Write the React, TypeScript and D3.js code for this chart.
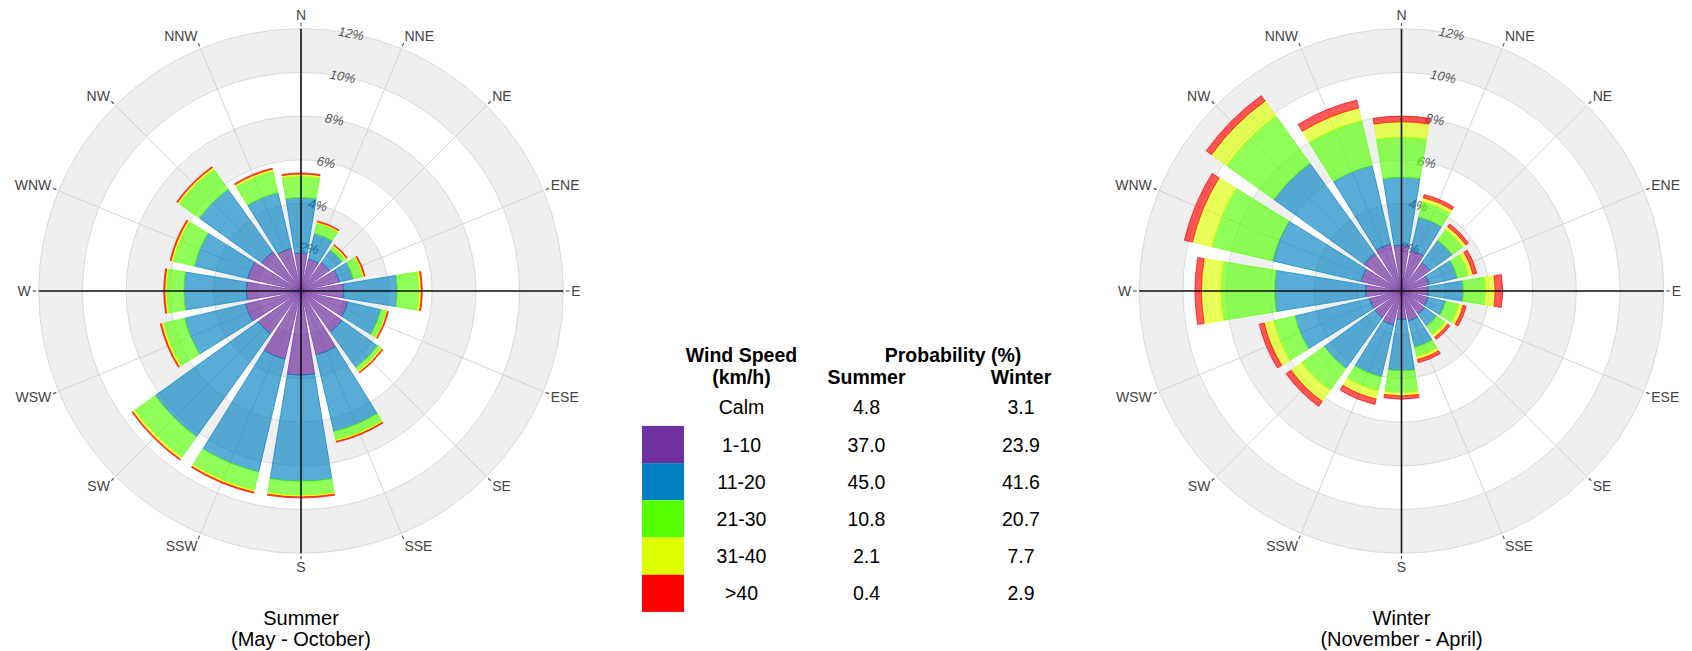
import React from "react";
import * as d3 from "d3";

const directions = ["N","NNE","NE","ENE","E","ESE","SE","SSE","S","SSW","SW","WSW","W","WNW","NW","NNW"];
const speedClasses = ["1-10","11-20","21-30","31-40",">40"];
const speedColors = ["#7030A0","#0080C0","#55FF00","#DDFF00","#FF0000"];

// Summer (May - October), % per direction for each speed class
const summer1to10 = [1.74,1.5,1.6,1.8,1.95,2.2,2.3,3.0,3.85,3.2,2.4,2.6,2.5,2.5,2.2,2.0];
const summer11to20 = [2.54,1.2,0.7,0.65,2.45,1.55,2.0,3.6,4.85,5.3,5.8,2.86,2.85,2.5,3.52,2.62];
const summer21to30 = [0.97,0.48,0.2,0.45,1.0,0.25,0.2,0.4,0.64,0.85,1.15,1.0,0.8,1.0,1.13,1.0];
const summer31to40 = [0.1,0.07,0.07,0.07,0.1,0.07,0.07,0.07,0.08,0.1,0.12,0.1,0.08,0.1,0.1,0.1];
const summerOver40 = [0.05,0.04,0.04,0.04,0.05,0.04,0.04,0.04,0.05,0.05,0.05,0.05,0.05,0.05,0.05,0.05];

// Winter (November - April)
const winter1to10 = [2.1,1.9,1.6,1.3,1.22,1.25,1.3,1.4,1.3,1.6,1.5,1.5,1.65,1.9,2.1,2.2];
const winter11to20 = [3.1,1.57,1.25,1.32,1.61,0.82,0.67,1.24,2.35,2.43,2.85,3.5,4.15,4.15,5.08,3.7];
const winter21to30 = [1.85,0.73,0.6,0.51,1.03,0.63,0.48,0.43,1.0,0.67,1.25,1.0,2.45,2.85,2.67,2.1];
const winter31to40 = [0.69,0.18,0.17,0.23,0.43,0.19,0.15,0.15,0.15,0.38,0.62,0.45,0.9,0.92,0.85,0.6];
const winterOver40 = [0.26,0.15,0.15,0.18,0.34,0.15,0.13,0.15,0.15,0.25,0.28,0.23,0.3,0.38,0.3,0.37];

const ringTicks = [2,4,6,8,10,12];

const legendLabels = ["Calm","1-10","11-20","21-30","31-40",">40"];
const legendSummer = ["4.8","37.0","45.0","10.8","2.1","0.4"];
const legendWinter = ["3.1","23.9","41.6","20.7","7.7","2.9"];

const FONT = "'Liberation Sans', Arial, Helvetica, sans-serif";

function buildRows(cols: number[][]) {
  return directions.map((d, i) => {
    const row: any = { dir: d };
    speedClasses.forEach((k, j) => { row[k] = cols[j][i]; });
    return row;
  });
}

const summerRows = buildRows([summer1to10, summer11to20, summer21to30, summer31to40, summerOver40]);
const winterRows = buildRows([winter1to10, winter11to20, winter21to30, winter31to40, winterOver40]);

function Rose({ cx, cy, rows, title, subtitle }: any) {
  const R = 262.3;
  const r = d3.scaleLinear().domain([0, 12]).range([0, R]);
  const step = (2 * Math.PI) / directions.length;
  const ang = d3.scaleBand<string>()
    .domain(directions)
    .range([-step / 2, 2 * Math.PI - step / 2])
    .paddingInner(0.17)
    .paddingOuter(0.085);
  const bw = ang.bandwidth();
  const stack = d3.stack<any>().keys(speedClasses)(rows);
  const arc = d3.arc<any>();
  const opac = [0.7, 0.65, 0.65, 0.65, 0.65];

  const bands = ringTicks.map((t, i) => {
    const inner = i === 0 ? 0 : ringTicks[i - 1];
    return { inner, outer: t, fill: i % 2 === 1 ? "#efefef" : "#ffffff" };
  });

  const labelAng = (11 * Math.PI) / 180;

  return (
    <g transform={`translate(${cx},${cy})`}>
      {bands.map((b, i) => (
        <path key={"b" + i}
          d={arc({ innerRadius: r(b.inner), outerRadius: r(b.outer), startAngle: 0, endAngle: 2 * Math.PI }) as string}
          fill={b.fill} />
      ))}
      {ringTicks.map((t) => (
        <circle key={"c" + t} r={r(t)} fill="none" stroke="#d9d9d9" strokeWidth={1} />
      ))}
      {directions.map((d, i) => {
        const a = i * step;
        return (
          <line key={"g" + d} x1={0} y1={0} x2={Math.sin(a) * R} y2={-Math.cos(a) * R}
            stroke="#d4d4d4" strokeWidth={1} />
        );
      })}
      {ringTicks.map((t) => (
        <text key={"rl" + t}
          transform={`translate(${Math.sin(labelAng) * r(t)},${-Math.cos(labelAng) * r(t)}) rotate(11)`}
          textAnchor="middle" dy="0.35em" fontSize={13} fontStyle="italic" fill="#555"
          fontFamily={FONT}>{t}%</text>
      ))}
      {stack.map((s, j) => (
        <g key={"s" + j}>
          {s.map((p: any) => {
            const a0 = ang(p.data.dir) as number;
            return (
              <path key={p.data.dir}
                d={arc({ innerRadius: r(p[0]), outerRadius: r(p[1]), startAngle: a0, endAngle: a0 + bw }) as string}
                fill={speedColors[j]} fillOpacity={opac[j]}
                stroke={speedColors[j]} strokeOpacity={0.75} strokeWidth={0.9} />
            );
          })}
        </g>
      ))}
      <line x1={0} y1={-R} x2={0} y2={R} stroke="#111" strokeWidth={1.6} />
      <line x1={-R} y1={0} x2={R} y2={0} stroke="#111" strokeWidth={1.6} />
      {directions.map((d, i) => {
        const a = i * step;
        const s = Math.sin(a), c = Math.cos(a);
        const ax = s * (R + 8), ay = -c * (R + 8);
        const anchor = s > 0.1 ? "start" : s < -0.1 ? "end" : "middle";
        const baseline = ay + 5 - c * 6;
        return (
          <g key={"dl" + d}>
            <line x1={s * (R + 2.5)} y1={-c * (R + 2.5)} x2={s * (R + 6)} y2={-c * (R + 6)}
              stroke="#555" strokeWidth={1.2} />
            <text x={ax} y={baseline} textAnchor={anchor} fontSize={14} fill="#444" fontFamily={FONT}>{d}</text>
          </g>
        );
      })}
      <text x={0} y={333.8} textAnchor="middle" fontSize={20} fill="#000" fontFamily={FONT}>{title}</text>
      <text x={0} y={354.8} textAnchor="middle" fontSize={20} fill="#000" fontFamily={FONT}>{subtitle}</text>
    </g>
  );
}

function Legend() {
  const rowY = d3.scaleLinear().domain([0, 1]).range([414.3, 451.5]);
  const fs = 19.5;
  const colSpeed = 741.5, colSummer = 866.5, colWinter = 1021;
  return (
    <g fontFamily={FONT} fill="#000">
      <text x={colSpeed} y={362.3} textAnchor="middle" fontWeight="bold" fontSize={fs}>Wind Speed</text>
      <text x={colSpeed} y={384.3} textAnchor="middle" fontWeight="bold" fontSize={fs}>(km/h)</text>
      <text x={953} y={362.3} textAnchor="middle" fontWeight="bold" fontSize={fs}>Probability (%)</text>
      <text x={colSummer} y={384.3} textAnchor="middle" fontWeight="bold" fontSize={fs}>Summer</text>
      <text x={colWinter} y={384.3} textAnchor="middle" fontWeight="bold" fontSize={fs}>Winter</text>
      {legendLabels.map((l, i) => (
        <g key={l}>
          {i > 0 && (
            <rect x={642} y={rowY(i) - 7 - 18.6} width={42} height={37.2} fill={speedColors[i - 1]} />
          )}
          <text x={colSpeed} y={rowY(i)} textAnchor="middle" fontSize={fs}>{l}</text>
          <text x={colSummer} y={rowY(i)} textAnchor="middle" fontSize={fs}>{legendSummer[i]}</text>
          <text x={colWinter} y={rowY(i)} textAnchor="middle" fontSize={fs}>{legendWinter[i]}</text>
        </g>
      ))}
    </g>
  );
}

export default function App() {
  return (
    <svg width={1692} height={651} viewBox="0 0 1692 651"
      style={{ position: "absolute", left: 0, top: 0, background: "#fff" }}>
      <rect x={0} y={0} width={1692} height={651} fill="#fff" />
      <Rose cx={301} cy={291} rows={summerRows} title="Summer" subtitle="(May - October)" />
      <Rose cx={1401.5} cy={291} rows={winterRows} title="Winter" subtitle="(November - April)" />
      <Legend />
    </svg>
  );
}
